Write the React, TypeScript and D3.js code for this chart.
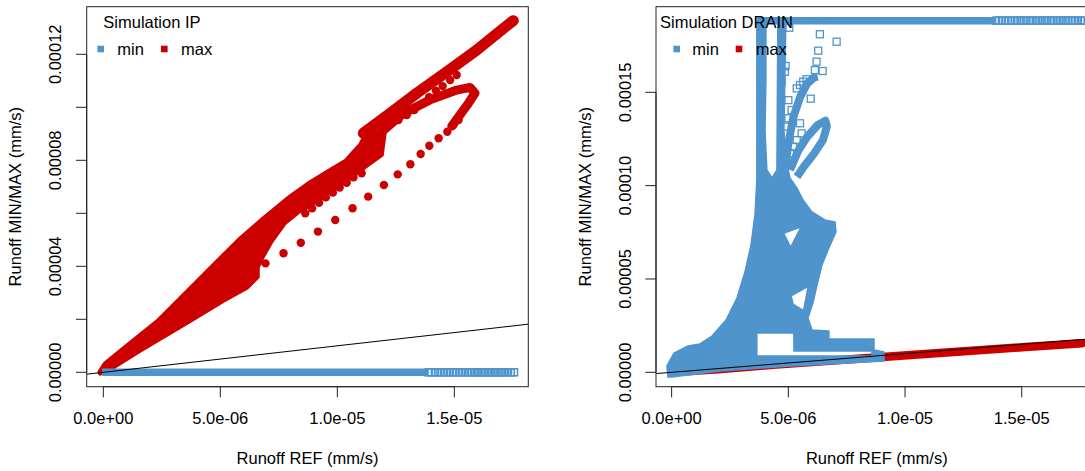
import React from "react";
import * as d3 from "d3";

type Pt = [number, number];

// values are stored in units of 1e-6 (x, runoff REF) and 1e-5 (y, runoff MIN/MAX)
const XU = 1e-6;
const YU = 1e-5;

const xTicks = [0, 5e-6, 1e-5, 1.5e-5];
const xTickLabels = ["0.0e+00", "5.0e-06", "1.0e-05", "1.5e-05"];

const ipYTicks = [0, 2e-5, 4e-5, 6e-5, 8e-5, 1e-4, 1.2e-4];
const ipYLabels = ["0.00000", "", "0.00004", "", "0.00008", "", "0.00012"];

const drainYTicks = [0, 5e-5, 1e-4, 1.5e-4];
const drainYLabels = ["0.00000", "0.00005", "0.00010", "0.00015"];

const seriesNames = ["min", "max"];

// 1:1 reference line (intercept, slope)
const refLine = [0, 1];

// ---- Simulation IP, "max" (dense cloud outline, loops, isolated points)
const ipMaxBody: Pt[] = [
  [-0.18, 0.01], [0.07, 0.35], [0.84, 0.9], [2.29, 1.93], [3.71, 3.18], [4.86, 4.2],
  [5.85, 5.07], [6.83, 5.82], [7.99, 6.66], [8.83, 7.18], [9.6, 7.6], [10.33, 7.98],
  [10.97, 8.6], [11.23, 9.07], [12.04, 9.07], [11.91, 8.2], [11.4, 7.88], [10.41, 7.22],
  [9.13, 6.45], [8.41, 6.08], [7.76, 5.62], [7.21, 4.95], [6.78, 4.28], [6.61, 3.95],
  [6.61, 3.6], [6.14, 3.18], [5.12, 2.68], [3.71, 1.93], [2.29, 1.18], [1.57, 0.8],
  [0.29, 0.1], [-0.14, -0.06],
];
const ipMaxUpperBand: Pt[] = [
  [11.11, 9.02], [12.25, 9.77], [13.39, 10.53], [14.68, 11.34], [15.96, 12.16],
  [17.17, 13.03], [17.52, 13.27],
];
const ipMaxLoop: Pt[] = [
  [11.82, 9.02], [12.82, 9.77], [13.96, 10.28], [15.1, 10.65], [15.67, 10.75],
  [15.88, 10.53], [15.6, 10.15], [15.24, 9.71], [14.89, 9.29],
];
const ipMaxDots: Pt[] = [
  [6.93, 4.11], [7.7, 4.49], [8.44, 4.89], [9.17, 5.31], [9.91, 5.75], [10.65, 6.19],
  [11.32, 6.63], [11.99, 7.07], [12.58, 7.47], [13.12, 7.85], [13.56, 8.24], [13.93, 8.55],
  [14.33, 8.83], [14.7, 9.08], [14.96, 9.33], [15.18, 9.52],
  [8.63, 6.0], [8.92, 6.19], [9.22, 6.4], [9.51, 6.6], [9.81, 6.78], [10.1, 6.97],
  [10.4, 7.15], [10.69, 7.36], [11.04, 7.51],
  [12.61, 9.52], [12.97, 9.71], [13.29, 9.9], [13.61, 10.12], [13.92, 10.38],
  [14.21, 10.63], [14.5, 10.8], [14.82, 11.03], [15.1, 11.22],
];

// ---- Simulation IP, "min" (stays at zero)
const ipMinDense: Pt[] = [[-0.05, 0], [13.88, 0]];
const ipMinSparseX = [
  13.9, 14.02, 14.17, 14.3, 14.41, 14.56, 14.68, 14.8, 14.95, 15.06, 15.2, 15.33, 15.45,
  15.58, 15.7, 15.84, 15.95, 16.07, 16.2, 16.31, 16.45, 16.56, 16.68, 16.8, 16.93, 17.04,
  17.17, 17.29, 17.41, 17.55,
];

// ---- Simulation DRAIN, "max" (close to the 1:1 line)
const drainMaxBand: Pt[] = [
  [0, 0], [2, 0.16], [4.34, 0.4], [6, 0.55], [9.05, 0.82], [11, 1.0], [13, 1.17],
  [15, 1.34], [17.6, 1.56],
];

// ---- Simulation DRAIN, "min"
const drainMinCloud: Pt[] = [
  [-0.16, -0.25], [-0.2, 0.34], [0.1, 1.03], [0.7, 1.41], [1.21, 1.52], [1.73, 1.94],
  [2.33, 2.8], [2.8, 3.98], [3.14, 5.37], [3.4, 6.82], [3.57, 8.43], [3.65, 10.3],
  [3.65, 18.82], [4.04, 18.82], [4.04, 15.66], [4.0, 12.98], [4.08, 10.84], [4.3, 10.41],
  [4.51, 10.84], [4.55, 18.82], [4.89, 18.82], [4.85, 15.66], [4.81, 12.98], [4.9, 11.37],
  [5.07, 10.41], [5.37, 9.87], [5.63, 9.23], [6.01, 8.59], [6.57, 8.16], [7.0, 8.05],
  [7.04, 7.52], [6.7, 6.55], [6.44, 5.75], [6.23, 4.68], [6.05, 3.71], [5.84, 2.91],
  [6.01, 2.27], [6.74, 2.21], [6.74, 1.78], [8.67, 1.78], [8.67, 1.19], [9.1, 1.09],
  [9.1, 0.61], [5.07, 0.34], [2.07, 0.07], [0.01, -0.25],
];
const drainMinHoles: Pt[][] = [
  [[4.8, 7.45], [5.55, 7.8], [5.1, 6.7]],
  [[5.12, 4.1], [5.85, 4.6], [5.65, 3.3], [5.2, 3.65]],
  [[3.65, 2.11], [5.24, 2.11], [5.24, 1.14], [8.58, 1.14], [8.58, 0.87], [3.65, 0.87]],
];
const drainMinLoopA: Pt[] = [
  [4.85, 10.66], [5.0, 12.27], [5.22, 13.69], [5.51, 14.76], [5.81, 15.48], [6.11, 15.8],
  [6.26, 15.84],
];
const drainMinLoopB: Pt[] = [
  [5.07, 10.84], [5.44, 11.91], [5.81, 12.62], [6.26, 13.25], [6.59, 13.48], [6.65, 13.16],
  [6.48, 12.44], [6.11, 11.73], [5.66, 11.01], [5.37, 10.48],
];
const drainMinTopDense: Pt[] = [[3.65, 18.84], [13.85, 18.84]];
const drainMinTopSparseX = [
  13.9, 14.03, 14.15, 14.3, 14.42, 14.55, 14.7, 14.81, 14.95, 15.08, 15.2, 15.34, 15.46,
  15.6, 15.72, 15.85, 15.98, 16.1, 16.24, 16.36, 16.5, 16.62, 16.75, 16.88, 17.0, 17.14,
  17.27, 17.4, 17.53, 17.65,
];
const drainMinSquares: Pt[] = [
  [5.04, 18.46], [6.35, 18.11], [7.07, 17.71], [6.28, 17.23], [6.21, 16.64], [6.47, 16.14],
  [6.14, 16.19], [4.88, 16.41], [4.71, 15.57], [5.96, 14.66], [5.5, 13.34], [5.14, 14.05],
  [5.0, 13.61], [4.93, 13.16], [5.36, 15.21], [5.5, 15.39], [5.64, 15.57], [5.78, 15.7],
  [5.21, 12.09], [5.36, 12.44], [5.57, 12.8], [5.07, 11.73], [4.85, 16.1], [5.0, 14.58],
  [4.92, 4.77],
];

const BLUE = "#4F94CD";
const RED = "#CD0000";
const FONT = "'Liberation Sans', Arial, Helvetica, sans-serif";
const FS = 16.5;
const SQ = 7;

interface FrameSpec {
  id: string;
  left: number;
  right: number;
  top: number;
  bottom: number;
  xDomain: [number, number];
  yDomain: [number, number];
  yTicks: number[];
  yLabels: string[];
  yLabelX: number;
  yTitleX: number;
  title: string;
  legend: { titleX: number; sq: number[]; txt: number[] };
}

const ipFrame: FrameSpec = {
  id: "ip",
  left: 86.7,
  right: 528.3,
  top: 6.7,
  bottom: 386.7,
  xDomain: [-0.71e-6, 18.16e-6],
  yDomain: [-0.543e-5, 13.796e-5],
  yTicks: ipYTicks,
  yLabels: ipYLabels,
  yLabelX: 55,
  yTitleX: 15,
  title: "Simulation IP",
  legend: { titleX: 103.3, sq: [100.7, 164.3], txt: [117.3, 181] },
};

const drainFrame: FrameSpec = {
  id: "drain",
  left: 656,
  right: 1097.6,
  top: 6.7,
  bottom: 386.7,
  xDomain: [-0.67e-6, 18.25e-6],
  yDomain: [-0.771e-5, 19.586e-5],
  yTicks: drainYTicks,
  yLabels: drainYLabels,
  yLabelX: 625,
  yTitleX: 585,
  title: "Simulation DRAIN",
  legend: { titleX: 660, sq: [676.7, 739], txt: [692.3, 755.7] },
};

function useScales(f: FrameSpec) {
  const x = d3.scaleLinear().domain(f.xDomain).range([f.left, f.right]);
  const y = d3.scaleLinear().domain(f.yDomain).range([f.bottom, f.top]);
  const line = d3
    .line<Pt>()
    .x((d) => x(d[0] * XU))
    .y((d) => y(d[1] * YU));
  const ring = d3
    .line<Pt>()
    .x((d) => x(d[0] * XU))
    .y((d) => y(d[1] * YU))
    .curve(d3.curveLinearClosed);
  return { x, y, line, ring };
}

function Frame({ f, children }: { f: FrameSpec; children: React.ReactNode }) {
  const { x, y } = useScales(f);
  const tick = 10.7;
  const [x0, x1] = f.xDomain;
  const midX = (f.left + f.right) / 2;
  const midY = (f.top + f.bottom) / 2;
  const ySpan = d3.extent(f.yTicks) as [number, number];
  return (
    <g>
      <defs>
        <clipPath id={`clip-${f.id}`}>
          <rect x={f.left} y={f.top} width={f.right - f.left} height={f.bottom - f.top} />
        </clipPath>
      </defs>
      <g clipPath={`url(#clip-${f.id})`}>
        {children}
        <line
          x1={x(x0)}
          y1={y(refLine[0] + refLine[1] * x0)}
          x2={x(x1)}
          y2={y(refLine[0] + refLine[1] * x1)}
          stroke="#000"
          strokeWidth={1}
        />
      </g>
      <rect
        x={f.left}
        y={f.top}
        width={f.right - f.left}
        height={f.bottom - f.top}
        fill="none"
        stroke="#222"
        strokeWidth={1}
      />
      {/* x axis */}
      <line x1={x(xTicks[0])} x2={x(xTicks[xTicks.length - 1])} y1={f.bottom} y2={f.bottom} stroke="#222" />
      {xTicks.map((t, i) => (
        <g key={i}>
          <line x1={x(t)} x2={x(t)} y1={f.bottom} y2={f.bottom + tick} stroke="#222" />
          <text x={x(t)} y={418} textAnchor="middle" dominantBaseline="central" fontSize={FS} fontFamily={FONT} fill="#000">
            {xTickLabels[i]}
          </text>
        </g>
      ))}
      <text x={midX} y={458} textAnchor="middle" dominantBaseline="central" fontSize={FS} fontFamily={FONT}>
        Runoff REF (mm/s)
      </text>
      {/* y axis */}
      <line x1={f.left} x2={f.left} y1={y(ySpan[0])} y2={y(ySpan[1])} stroke="#222" />
      {f.yTicks.map((t, i) => (
        <g key={i}>
          <line x1={f.left - tick} x2={f.left} y1={y(t)} y2={y(t)} stroke="#222" />
          {f.yLabels[i] && (
            <text
              transform={`translate(${f.yLabelX},${y(t)}) rotate(-90)`}
              textAnchor="middle"
              dominantBaseline="central"
              fontSize={FS}
              fontFamily={FONT}
            >
              {f.yLabels[i]}
            </text>
          )}
        </g>
      ))}
      <text
        transform={`translate(${f.yTitleX},${midY}) rotate(-90)`}
        textAnchor="middle"
        dominantBaseline="central"
        fontSize={FS}
        fontFamily={FONT}
      >
        Runoff MIN/MAX (mm/s)
      </text>
      {/* legend */}
      <text x={f.legend.titleX} y={28} fontSize={FS} fontFamily={FONT}>
        {f.title}
      </text>
      {seriesNames.map((n, i) => (
        <g key={n}>
          <rect x={f.legend.sq[i] - 3.3} y={49 - 3.3} width={6.6} height={6.6} fill={i === 0 ? BLUE : RED} />
          <text x={f.legend.txt[i]} y={55} fontSize={FS} fontFamily={FONT}>
            {n}
          </text>
        </g>
      ))}
    </g>
  );
}

function IPMarks() {
  const { x, y, line, ring } = useScales(ipFrame);
  return (
    <g>
      <path d={ring(ipMaxBody) ?? ""} fill={RED} stroke={RED} strokeWidth={3.5} strokeLinejoin="round" />
      <path d={line(ipMaxUpperBand) ?? ""} fill="none" stroke={RED} strokeWidth={11} strokeLinecap="round" strokeLinejoin="round" />
      <path d={line(ipMaxLoop) ?? ""} fill="none" stroke={RED} strokeWidth={9} strokeLinecap="round" strokeLinejoin="round" />
      {ipMaxDots.map((d, i) => (
        <circle key={i} cx={x(d[0] * XU)} cy={y(d[1] * YU)} r={4.2} fill={RED} />
      ))}
      <path d={line(ipMinDense) ?? ""} fill="none" stroke={BLUE} strokeWidth={SQ + 0.5} />
      {ipMinSparseX.map((v, i) => (
        <rect
          key={i}
          x={x(v * XU) - SQ / 2}
          y={y(0) - SQ / 2}
          width={SQ}
          height={SQ}
          fill="none"
          stroke={BLUE}
          strokeWidth={1.6}
        />
      ))}
    </g>
  );
}

function DrainMarks() {
  const { x, y, line, ring } = useScales(drainFrame);
  const cloud = [drainMinCloud, ...drainMinHoles].map((r) => ring(r) ?? "").join(" ");
  return (
    <g>
      <path d={line(drainMaxBand) ?? ""} fill="none" stroke={RED} strokeWidth={8.5} strokeLinecap="round" strokeLinejoin="round" />
      <path d={cloud} fill={BLUE} fillRule="evenodd" stroke={BLUE} strokeWidth={1.5} strokeLinejoin="round" />
      <path d={line(drainMinLoopA) ?? ""} fill="none" stroke={BLUE} strokeWidth={8} strokeLinejoin="round" />
      <path d={line(drainMinLoopB) ?? ""} fill="none" stroke={BLUE} strokeWidth={8} strokeLinejoin="round" />
      <path d={line(drainMinTopDense) ?? ""} fill="none" stroke={BLUE} strokeWidth={SQ + 0.5} />
      {drainMinTopSparseX.map((v, i) => (
        <rect
          key={i}
          x={x(v * XU) - SQ / 2}
          y={y(drainMinTopDense[0][1] * YU) - SQ / 2}
          width={SQ}
          height={SQ}
          fill="none"
          stroke={BLUE}
          strokeWidth={1.6}
        />
      ))}
      {drainMinSquares.map((d, i) => (
        <rect
          key={i}
          x={x(d[0] * XU) - SQ / 2}
          y={y(d[1] * YU) - SQ / 2}
          width={SQ}
          height={SQ}
          fill="none"
          stroke={BLUE}
          strokeWidth={1.3}
        />
      ))}
    </g>
  );
}

export default function App() {
  return (
    <div style={{ position: "absolute", left: 0, top: 0 }}>
      <svg width={1085} height={471} style={{ display: "block", background: "#fff" }}>
        <Frame f={ipFrame}>
          <IPMarks />
        </Frame>
        <Frame f={drainFrame}>
          <DrainMarks />
        </Frame>
      </svg>
    </div>
  );
}
